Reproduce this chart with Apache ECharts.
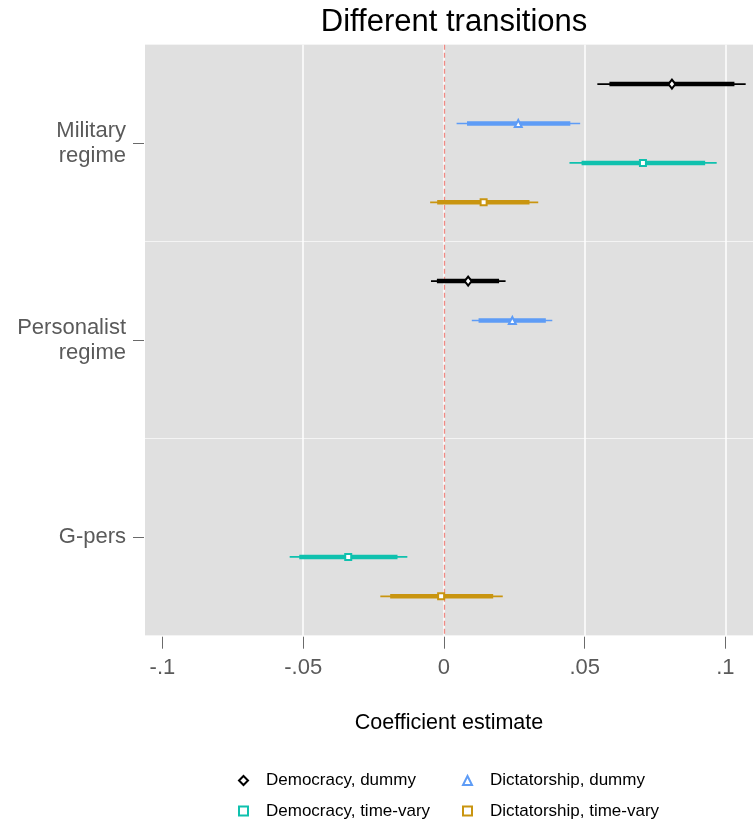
<!DOCTYPE html>
<html>
<head>
<meta charset="utf-8">
<script src="https://cdn.jsdelivr.net/npm/echarts@6/dist/echarts.min.js"></script>
<style>
  html, body { margin: 0; padding: 0; background: #fff; }
  #chart { width: 753px; height: 823px; }
</style>
</head>
<body>
<div id="chart"></div>
<script>
// categories on the y axis (top to bottom)
const categories = ['Military\nregime', 'Personalist\nregime', 'G-pers'];
const xTicks = [-0.1, -0.05, 0, 0.05, 0.1];

// each row: [category, estimate, lo90, hi90, lo95, hi95]
const demDummy = [
  ['Military\nregime', 0.0810, 0.0588, 0.1032, 0.0545, 0.1072],
  ['Personalist\nregime', 0.0086, -0.0025, 0.0196, -0.0046, 0.0219]
];
const dicDummy = [
  ['Military\nregime', 0.0264, 0.0082, 0.0449, 0.0045, 0.0484],
  ['Personalist\nregime', 0.0243, 0.0123, 0.0362, 0.0099, 0.0385]
];
const demTimeVary = [
  ['Military\nregime', 0.0707, 0.0489, 0.0928, 0.0446, 0.0969],
  ['G-pers', -0.0340, -0.0514, -0.0165, -0.0548, -0.0130]
];
const dicTimeVary = [
  ['Military\nregime', 0.0141, -0.0024, 0.0304, -0.0049, 0.0335],
  ['G-pers', -0.0010, -0.0191, 0.0175, -0.0226, 0.0209]
];

const FONT = 'Liberation Sans, Arial, Helvetica, sans-serif';

// series setup: name, data, colour, symbol, row offset inside the group, legend spot
const models = [
  { name: 'Democracy, dummy', data: demDummy, color: '#000000', symbol: 'diamond', size: [7, 9], slot: -1.5, lx: 238, ly: 771.5 },
  { name: 'Dictatorship, dummy', data: dicDummy, color: '#5e9cf6', symbol: 'triangle', size: [7, 7], slot: -0.5, lx: 462, ly: 771.5 },
  { name: 'Democracy, time-vary', data: demTimeVary, color: '#0fc1ae', symbol: 'rect', size: [6, 6], slot: 0.5, lx: 238, ly: 802 },
  { name: 'Dictatorship, time-vary', data: dicTimeVary, color: '#c99510', symbol: 'rect', size: [6, 6], slot: 1.5, lx: 462, ly: 802 }
];

// 5 slots per category, category centre at 2.5
const rowPos = (cat, slot) => categories.indexOf(cat) * 5 + 2.5 + slot;

const series = [];

// grid lines + zero reference line (kept under the data)
series.push({
  type: 'line',
  data: [],
  xAxisIndex: 0,
  yAxisIndex: 1,
  silent: true,
  z: 1,
  markLine: {
    silent: true,
    z: 1,
    symbol: 'none',
    label: { show: false },
    animation: false,
    data: [
      { xAxis: -0.05, lineStyle: { color: '#ffffff', width: 1.5, type: 'solid' } },
      { xAxis: 0, lineStyle: { color: '#ffffff', width: 1.5, type: 'solid' } },
      { xAxis: 0.05, lineStyle: { color: '#ffffff', width: 1.5, type: 'solid' } },
      { xAxis: 0.1, lineStyle: { color: '#ffffff', width: 1.5, type: 'solid' } },
      { xAxis: 0, lineStyle: { color: '#f08a84', width: 1.3, type: [5, 3] } }
    ]
  }
});

// horizontal bar between two x values at one y, drawn as a rect
const bar = (p, q, h, color) => ({
  type: 'rect',
  shape: { x: Math.min(p[0], q[0]), y: p[1] - h / 2, width: Math.abs(q[0] - p[0]), height: h },
  style: { fill: color }
});

models.forEach(m => {
  // confidence intervals (thin = 95%, thick = 90%)
  series.push({
    type: 'custom',
    xAxisIndex: 0,
    yAxisIndex: 1,
    z: 3,
    silent: true,
    data: m.data.map(r => [rowPos(r[0], m.slot), r[2], r[3], r[4], r[5]]),
    encode: { x: [1, 2, 3, 4], y: 0 },
    renderItem: (params, api) => {
      const y = api.value(0);
      const a = api.coord([api.value(3), y]);
      const b = api.coord([api.value(4), y]);
      const c = api.coord([api.value(1), y]);
      const d = api.coord([api.value(2), y]);
      return {
        type: 'group',
        children: [bar(a, b, 1.7, m.color), bar(c, d, 4.5, m.color)]
      };
    }
  });
  // point estimates
  series.push({
    name: m.name,
    type: 'scatter',
    xAxisIndex: 0,
    yAxisIndex: 1,
    z: 5,
    symbol: m.symbol,
    symbolSize: m.size,
    itemStyle: { color: '#ffffff', borderColor: m.color, borderWidth: 2, opacity: 1 },
    data: m.data.map(r => [r[1], rowPos(r[0], m.slot)])
  });
});

// one legend box per entry so the 2x2 layout lines up
const legends = models.map(m => ({
  data: [m.name],
  left: m.lx,
  top: m.ly,
  padding: 0,
  itemWidth: 9,
  itemHeight: 9,
  selectedMode: false,
  textStyle: { fontFamily: FONT, fontSize: 17, color: '#000', lineHeight: 18, padding: [0, 0, 0, 13] }
}));

const chart = echarts.init(document.getElementById('chart'));
chart.setOption({
  animation: false,
  backgroundColor: '#ffffff',
  title: {
    text: 'Different transitions',
    left: 454,
    top: 7,
    padding: 0,
    textAlign: 'center',
    textStyle: { fontFamily: FONT, fontSize: 31, fontWeight: 'normal', color: '#000' }
  },
  grid: {
    left: 145,
    right: 0,
    top: 44.7,
    bottom: 187.3,
    show: true,
    backgroundColor: '#e0e0e0',
    borderWidth: 0
  },
  legend: legends,
  xAxis: {
    type: 'value',
    min: -0.1062,
    max: 0.1098,
    offset: 1,
    position: 'bottom',
    name: 'Coefficient estimate',
    nameLocation: 'middle',
    nameGap: 75,
    nameTextStyle: { fontFamily: FONT, fontSize: 21.5, color: '#000' },
    axisLine: { show: false, onZero: false },
    axisTick: { show: true, length: 12, customValues: xTicks, lineStyle: { color: '#6a6a6a', width: 1 } },
    axisLabel: {
      customValues: xTicks,
      margin: 20,
      fontFamily: FONT,
      fontSize: 22,
      color: '#5a5a5a',
      formatter: v => (v === 0 ? '0' : String(v).replace('0.', '.'))
    },
    splitLine: { show: false }
  },
  yAxis: [
    {
      type: 'category',
      data: categories,
      inverse: true,
      offset: 1,
      position: 'left',
      axisLine: { show: false, onZero: false },
      axisTick: { show: true, alignWithLabel: true, length: 11, lineStyle: { color: '#6a6a6a', width: 1 } },
      axisLabel: {
        margin: 18,
        fontFamily: FONT,
        fontSize: 22,
        lineHeight: 25,
        color: '#5a5a5a',
        align: 'right'
      },
      splitLine: { show: true, lineStyle: { color: '#f4f4f4', width: 1 } }
    },
    {
      type: 'value',
      min: 0,
      max: 15,
      inverse: true,
      show: false,
      axisLine: { onZero: false },
      splitLine: { show: false }
    }
  ],
  series: series
});
</script>
</body>
</html>
